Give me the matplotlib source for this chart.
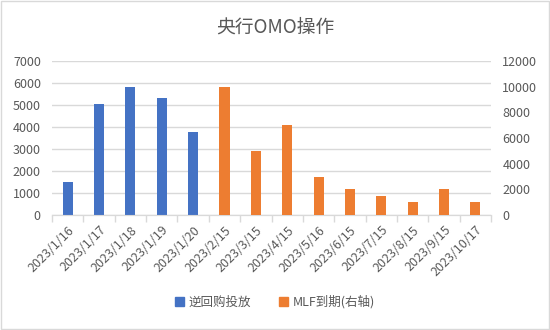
import matplotlib.pyplot as plt
import matplotlib.patches as mpatches
import numpy as np

plt.rcParams['font.family'] = ['Noto Sans CJK SC', 'DejaVu Sans']

dates = ['2023/1/16', '2023/1/17', '2023/1/18', '2023/1/19', '2023/1/20',
         '2023/2/15', '2023/3/15', '2023/4/15', '2023/5/16', '2023/6/15',
         '2023/7/15', '2023/8/15', '2023/9/15', '2023/10/17']
repo_dates = dates[:5]
repo_values = [1520, 5070, 5800, 5330, 3800]
mlf_dates = dates[5:]
mlf_values = [10000, 5000, 7000, 3000, 2000, 1500, 1000, 2000, 1000]

blue = '#4472C4'
orange = '#ED7D31'
grey_text = '#595959'
grid_col = '#D9D9D9'

fig = plt.figure(figsize=(5.5, 3.3), dpi=100)
ax = fig.add_axes([0.0945, 0.348, 0.7985, 0.467])
ax2 = ax.twinx()

x = np.arange(len(dates))
pos = {d: i for i, d in enumerate(dates)}
w = 0.32
ax.bar([pos[d] for d in repo_dates], repo_values, width=w, color=blue, zorder=3)
ax2.bar([pos[d] for d in mlf_dates], mlf_values, width=w, color=orange, zorder=3)

ax.set_xlim(-0.5, len(dates) - 0.5)
ax.set_ylim(0, 7000)
ax2.set_ylim(0, 12000)
ax.set_yticks(range(0, 7001, 1000))
ax2.set_yticks(range(0, 12001, 2000))
ax.yaxis.grid(True, color=grid_col, linewidth=1, zorder=0)
ax.set_axisbelow(True)

ax.set_xticks(x)
ax.set_xticklabels(dates, rotation=45, ha='right', rotation_mode='anchor')
ax.set_xticks(np.arange(-0.5, len(dates)), minor=True)
ax.tick_params(axis='x', which='major', length=0, pad=6, labelsize=9, colors=grey_text)
ax.tick_params(axis='x', which='minor', length=5, color=grid_col, width=1)
ax.tick_params(axis='y', length=0, labelsize=9, colors=grey_text, pad=8)
ax2.tick_params(axis='y', length=0, labelsize=9, colors=grey_text, pad=8)

for a in (ax, ax2):
    for s in ['top', 'left', 'right']:
        a.spines[s].set_visible(False)
    a.spines['bottom'].set_color(grid_col)

fig.text(0.5, 0.918, '央行OMO操作', ha='center', va='center', fontsize=13.5, color=grey_text)

handles = [mpatches.Patch(color=blue, label='逆回购投放'),
           mpatches.Patch(color=orange, label='MLF到期(右轴)')]
fig.legend(handles=handles, loc='center', bbox_to_anchor=(0.5, 0.085), ncol=2, frameon=False,
           fontsize=9, labelcolor=grey_text, handlelength=0.7, handleheight=0.7,
           handletextpad=0.4, columnspacing=2.2)

fig.patches.append(mpatches.Rectangle((0.002, 0.003), 0.996, 0.994, transform=fig.transFigure,
                                      fill=False, edgecolor=grid_col, linewidth=1))

fig.savefig('out.png', dpi=100)
